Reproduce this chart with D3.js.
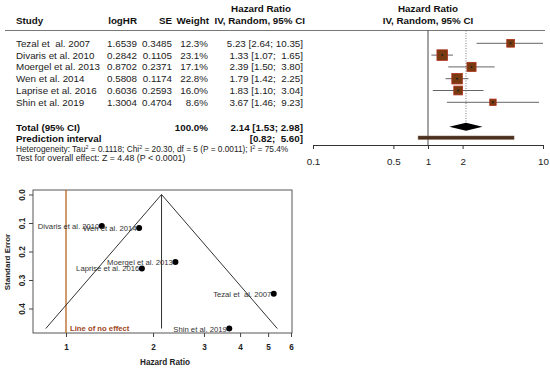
<!DOCTYPE html>
<html lang="en">
<head>
<meta charset="utf-8">
<script src="https://cdn.jsdelivr.net/npm/d3@7"></script>
<style>
  body { margin: 0; background: #fff; }
  text { font-family: "Liberation Sans", Arial, sans-serif; white-space: pre; }
</style>
</head>
<body>
<div id="my_dataviz"></div>
<script>
// study data
var studies = ["Tezal et  al. 2007", "Divaris et al. 2010", "Moergel et al. 2013", "Wen et al. 2014", "Laprise et al. 2016", "Shin et al. 2019"];
var logHR = ["1.6539", "0.2842", "0.8702", "0.5808", "0.6036", "1.3004"];
var se = [0.3485, 0.1105, 0.2371, 0.1174, 0.2593, 0.4704];
var weight = [12.3, 23.1, 17.1, 22.8, 16.0, 8.6];
var hr = [5.23, 1.33, 2.39, 1.79, 1.83, 3.67];
var ciLow = [2.64, 1.07, 1.50, 1.42, 1.10, 1.46];
var ciHigh = [10.35, 1.65, 3.80, 2.25, 3.04, 9.23];

// pooled
var total = {hr: 2.14, lo: 1.53, hi: 2.98, weight: "100.0%"};
var predInt = [0.82, 5.60];
var forestTicks = [0.1, 0.5, 1, 2, 10];
var funnelXTicks = [1, 2, 3, 4, 5, 6];
var funnelYTicks = [0, 0.1, 0.2, 0.3, 0.4];

var width = 550, height = 368;
var svg = d3.select("#my_dataviz").append("svg")
    .attr("width", width).attr("height", height);

var fs = 9.8;
var rowY = function (i) { return 43.3 + i * 11.8; };
var fmt = function (v) { return v.toFixed(2); };

// ---------- forest table ----------
var head = svg.append("g").style("font-weight", "bold").style("font-size", fs + "px").style("fill", "#111");
head.append("text").attr("x", 16).attr("y", 24).text("Study");
head.append("text").attr("x", 137).attr("y", 24).attr("text-anchor", "end").text("logHR");
head.append("text").attr("x", 172).attr("y", 24).attr("text-anchor", "end").text("SE");
head.append("text").attr("x", 209).attr("y", 24).attr("text-anchor", "end").text("Weight");
head.append("text").attr("x", 291).attr("y", 12).attr("text-anchor", "end").text("Hazard Ratio");
head.append("text").attr("x", 305).attr("y", 24).attr("text-anchor", "end").text("IV, Random, 95% CI");
head.append("text").attr("x", 428).attr("y", 12).attr("text-anchor", "middle").text("Hazard Ratio");
head.append("text").attr("x", 428).attr("y", 24).attr("text-anchor", "middle").text("IV, Random, 95% CI");

svg.append("line").attr("x1", 5).attr("x2", 545).attr("y1", 30.5).attr("y2", 30.5)
    .style("stroke", "#555").style("stroke-width", 0.8);

var rows = svg.selectAll(".row").data(studies).enter().append("g")
    .attr("class", "row")
    .attr("transform", function (d, i) { return "translate(0," + (rowY(i) + 3.5) + ")"; })
    .style("font-size", fs + "px").style("fill", "#222");
rows.append("text").attr("x", 16).text(function (d) { return d; });
rows.append("text").attr("x", 137).attr("text-anchor", "end").text(function (d, i) { return logHR[i]; });
rows.append("text").attr("x", 172).attr("text-anchor", "end").text(function (d, i) { return se[i].toFixed(4); });
rows.append("text").attr("x", 208).attr("text-anchor", "end").text(function (d, i) { return weight[i].toFixed(1) + "%"; });
rows.append("text").attr("x", 303).attr("text-anchor", "end")
    .text(function (d, i) { return fmt(hr[i]) + " [" + fmt(ciLow[i]) + "; " + (ciHigh[i] < 10 ? " " : "") + fmt(ciHigh[i]) + "]"; });

var tot = svg.append("g").style("font-weight", "bold").style("font-size", fs + "px").style("fill", "#111");
tot.append("text").attr("x", 16).attr("y", 130.5).text("Total (95% CI)");
tot.append("text").attr("x", 208).attr("y", 130.5).attr("text-anchor", "end").text(total.weight);
tot.append("text").attr("x", 303).attr("y", 130.5).attr("text-anchor", "end")
    .text(fmt(total.hr) + " [" + fmt(total.lo) + "; " + fmt(total.hi) + "]");
tot.append("text").attr("x", 16).attr("y", 142).text("Prediction interval");
tot.append("text").attr("x", 303).attr("y", 142).attr("text-anchor", "end")
    .text("[" + fmt(predInt[0]) + "; " + " " + fmt(predInt[1]) + "]");

var het = svg.append("g").style("fill", "#222");
var h1 = het.append("text").attr("x", 16).attr("y", 151.5).style("font-size", "8.3px");
h1.append("tspan").text("Heterogeneity: Tau");
h1.append("tspan").attr("dy", -3).style("font-size", "5.3px").text("2");
h1.append("tspan").attr("dy", 3).text(" = 0.1118; Chi");
h1.append("tspan").attr("dy", -3).style("font-size", "5.3px").text("2");
h1.append("tspan").attr("dy", 3).text(" = 20.30, df = 5 (P = 0.0011); I");
h1.append("tspan").attr("dy", -3).style("font-size", "5.3px").text("2");
h1.append("tspan").attr("dy", 3).text(" = 75.4%");
het.append("text").attr("x", 16).attr("y", 160.5).style("font-size", "8.8px")
    .text("Test for overall effect: Z = 4.48 (P < 0.0001)");

// ---------- forest graphic ----------
var x = d3.scaleLog().domain([0.1, 10]).range([313, 543]);
var size = d3.scaleSqrt().domain([0, 25]).range([0, 11]);

svg.append("line").attr("x1", x(1)).attr("x2", x(1)).attr("y1", 30.5).attr("y2", 145)
    .style("stroke", "#333").style("stroke-width", 0.9);
svg.append("line").attr("x1", x(total.hr)).attr("x2", x(total.hr)).attr("y1", 30.5).attr("y2", 123)
    .style("stroke", "#555").style("stroke-width", 0.8).style("stroke-dasharray", "1,1.5");

var marks = svg.selectAll(".mk").data(studies).enter().append("g").attr("class", "mk");
marks.append("line")
    .attr("x1", function (d, i) { return x(Math.max(ciLow[i], 0.1)); })
    .attr("x2", function (d, i) { return x(Math.min(ciHigh[i], 10)); })
    .attr("y1", function (d, i) { return rowY(i); })
    .attr("y2", function (d, i) { return rowY(i); })
    .style("stroke", "#555").style("stroke-width", 0.9);
marks.append("rect")
    .attr("x", function (d, i) { return x(hr[i]) - size(weight[i]) / 2; })
    .attr("y", function (d, i) { return rowY(i) - size(weight[i]) / 2; })
    .attr("width", function (d, i) { return size(weight[i]); })
    .attr("height", function (d, i) { return size(weight[i]); })
    .style("fill", "#7a3a10").style("stroke", "#b0301c").style("stroke-width", 0.8);
marks.append("circle")
    .attr("cx", function (d, i) { return x(hr[i]); })
    .attr("cy", function (d, i) { return rowY(i); })
    .attr("r", 1).style("fill", "#222");

// diamond
var dy = 126.7;
svg.append("path")
    .attr("d", "M" + x(total.lo) + "," + dy + "L" + x(total.hr) + "," + (dy - 4) +
        "L" + x(total.hi) + "," + dy + "L" + x(total.hr) + "," + (dy + 4) + "Z")
    .style("fill", "#000");

// prediction interval
svg.append("rect").attr("x", x(predInt[0])).attr("y", 136)
    .attr("width", x(predInt[1]) - x(predInt[0])).attr("height", 3.4)
    .style("fill", "#4a3020").style("stroke", "#7a5a40").style("stroke-width", 0.5);

// axis
var xAxis = svg.append("g").attr("transform", "translate(0,145)")
    .call(d3.axisBottom(x).tickValues(forestTicks).tickFormat(d3.format("")).tickSize(4).tickPadding(9));
xAxis.select(".domain").style("stroke", "#333");
xAxis.selectAll("line").style("stroke", "#333");
xAxis.selectAll("text").style("font-size", fs + "px").style("fill", "#222")
    .style("font-family", "'Liberation Sans', Arial, sans-serif");

// ---------- funnel plot ----------
var fx = d3.scaleLog().domain([1, 6]).range([66, 291]);
var fy = d3.scaleLinear().domain([0, 0.4]).range([194.5, 308.5]);
var box = {l: 33, t: 190, r: 292, b: 333};

svg.append("rect").attr("x", box.l).attr("y", box.t)
    .attr("width", box.r - box.l).attr("height", box.b - box.t)
    .style("fill", "none").style("stroke", "#444").style("stroke-width", 0.9);

var fxAxis = svg.append("g").attr("transform", "translate(0," + box.b + ")")
    .call(d3.axisBottom(fx).tickValues(funnelXTicks).tickFormat(d3.format("d")).tickSize(4).tickPadding(7));
fxAxis.select(".domain").remove();
var fyAxis = svg.append("g").attr("transform", "translate(" + box.l + ",0)")
    .call(d3.axisLeft(fy).tickValues(funnelYTicks).tickFormat(d3.format(".1f")).tickSize(4).tickPadding(2));
fyAxis.select(".domain").remove();
fyAxis.selectAll("text")
    .attr("x", 0).attr("y", 0).attr("dy", 0)
    .style("text-anchor", "middle")
    .attr("transform", "translate(-8,0) rotate(-90)");
[fxAxis, fyAxis].forEach(function (a) {
    a.selectAll("line").style("stroke", "#444");
    a.selectAll("text").style("font-size", "8.2px").style("font-weight", "bold").style("fill", "#222")
        .style("font-family", "'Liberation Sans', Arial, sans-serif");
});

// line of no effect
svg.append("line").attr("x1", fx(1)).attr("x2", fx(1)).attr("y1", box.t).attr("y2", box.b)
    .style("stroke", "#b8651f").style("stroke-width", 1.3);
svg.append("text").attr("x", 70).attr("y", 331).text("Line of no effect")
    .style("font-size", "7.7px").style("font-weight", "bold").style("fill", "#a0481a");

// funnel
var seMax = d3.max(se);
var lnT = Math.log(total.hr);
var funnel = [[Math.exp(lnT - 1.96 * seMax), seMax], [total.hr, 0], [Math.exp(lnT + 1.96 * seMax), seMax]];
svg.append("path")
    .attr("d", d3.line().x(function (d) { return fx(d[0]); }).y(function (d) { return fy(d[1]); })(funnel))
    .style("fill", "none").style("stroke", "#333").style("stroke-width", 1);
svg.append("line").attr("x1", fx(total.hr)).attr("x2", fx(total.hr))
    .attr("y1", fy(0)).attr("y2", fy(seMax))
    .style("stroke", "#333").style("stroke-width", 1);

var pts = svg.selectAll(".pt").data(studies).enter().append("g").attr("class", "pt");
pts.append("text")
    .attr("x", function (d, i) { return fx(hr[i]) - 2.5; })
    .attr("y", function (d, i) { return fy(se[i]) + 3; })
    .attr("text-anchor", "end")
    .style("font-size", "7.7px").style("fill", "#333")
    .text(function (d) { return d; });
pts.append("circle")
    .attr("cx", function (d, i) { return fx(hr[i]); })
    .attr("cy", function (d, i) { return fy(se[i]); })
    .attr("r", 3).style("fill", "#000");

svg.append("text").attr("x", 165).attr("y", 365).attr("text-anchor", "middle")
    .style("font-size", "8.2px").style("font-weight", "bold").style("fill", "#222").text("Hazard Ratio");
svg.append("text").attr("transform", "translate(10,262) rotate(-90)").attr("text-anchor", "middle")
    .style("font-size", "8px").style("font-weight", "bold").style("fill", "#222").text("Standard Error");
</script>
</body>
</html>
